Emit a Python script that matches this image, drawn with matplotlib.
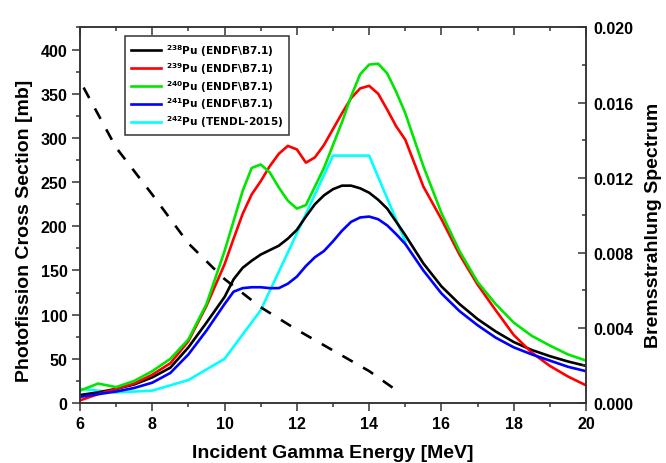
import matplotlib
matplotlib.use("Agg")
import matplotlib.pyplot as plt
from matplotlib.ticker import MultipleLocator, FormatStrFormatter

plt.rcParams['font.family'] = ['Liberation Sans', 'DejaVu Sans']
plt.rcParams['font.weight'] = 'bold'
plt.rcParams['mathtext.default'] = 'bf'

# photofission cross sections [mb]
energy = [6, 6.5, 7, 7.5, 8, 8.5, 9, 9.5, 10, 10.25, 10.5, 10.75, 11, 11.25,
          11.5, 11.75, 12, 12.25, 12.5, 12.75, 13, 13.25, 13.5, 13.75, 14,
          14.25, 14.5, 14.75, 15, 15.5, 16, 16.5, 17, 17.5, 18, 18.5, 19,
          19.5, 20]
pu238 = [9, 12, 16, 21, 29, 40, 63, 91, 120, 140, 153, 161, 168, 173, 178,
         186, 196, 211, 225, 235, 242, 246, 246, 243, 238, 230, 220, 205, 190,
         158, 132, 112, 95, 81, 69, 60, 53, 47, 42]
pu239 = [3, 10, 16, 22, 32, 45, 70, 110, 157, 186, 214, 236, 251, 268, 282,
         291, 287, 272, 278, 292, 310, 328, 345, 356, 359, 350, 332, 313, 298,
         245, 208, 168, 134, 105, 77, 57, 42, 30, 20]
pu240 = [14, 22, 18, 25, 36, 50, 72, 112, 172, 206, 240, 266, 270, 261, 244,
         229, 220, 224, 245, 266, 292, 318, 347, 372, 383, 384, 373, 352, 328,
         268, 215, 172, 137, 112, 91, 76, 65, 55, 48]
pu241 = [7, 10, 13, 17, 23, 34, 55, 82, 112, 126, 130, 131, 131, 130, 130,
         135, 143, 155, 165, 172, 183, 195, 205, 210, 211, 208, 201, 191, 180,
         150, 124, 104, 88, 74, 63, 55, 48, 41, 36]
energy_242 = [6, 7, 8, 9, 10, 11, 12, 13, 14, 15]
pu242 = [16, 12, 14, 26, 50, 105, 192, 280, 280, 183]

# bremsstrahlung spectrum (right axis)
energy_brems = [6.1, 7, 8, 9, 10, 11, 12, 13, 14, 14.7]
brems = [0.0168, 0.0136, 0.0111, 0.0085, 0.0066, 0.0051, 0.0039, 0.0028,
         0.0017, 0.00075]

series = [
    (pu238, 'black', r'$^{238}$Pu (ENDF\B7.1)'),
    (pu239, '#ff0000', r'$^{239}$Pu (ENDF\B7.1)'),
    (pu240, '#00e600', r'$^{240}$Pu (ENDF\B7.1)'),
    (pu241, '#0000ff', r'$^{241}$Pu (ENDF\B7.1)'),
]

fig = plt.figure(figsize=(6.66, 4.64), dpi=100)
ax = fig.add_axes([0.1201, 0.1293, 0.7598, 0.8093])

ax.plot(energy_242, pu242, color='#00ffff', lw=1.9, zorder=1,
        label=r'$^{242}$Pu (TENDL-2015)')
lines = []
for vals, col, lab in series:
    ln, = ax.plot(energy, vals, color=col, lw=1.9, zorder=2, label=lab)
    lines.append(ln)

ax.set_xlim(6, 20)
ax.set_ylim(0, 425)
ax.xaxis.set_major_locator(MultipleLocator(2))
ax.xaxis.set_minor_locator(MultipleLocator(1))
ax.yaxis.set_major_locator(MultipleLocator(50))
ax.yaxis.set_minor_locator(MultipleLocator(25))
ax.tick_params(which='both', direction='out', labelsize=11.5, width=1.1,
               color='#333333', top=False, right=False)
ax.tick_params(which='major', length=6, pad=3)
ax.tick_params(which='minor', length=3)
for s in ax.spines.values():
    s.set_linewidth(1.1)
    s.set_color('#333333')

top = ax.secondary_xaxis('top')
top.xaxis.set_major_locator(MultipleLocator(2))
top.xaxis.set_minor_locator(MultipleLocator(1))
top.tick_params(which='both', direction='in', labeltop=False, width=1.1,
                color='#333333')
top.tick_params(which='major', length=6)
top.tick_params(which='minor', length=3)
top.spines['top'].set_linewidth(0)

ax.set_xlabel('Incident Gamma Energy [MeV]', fontsize=14, fontweight='bold')
ax.xaxis.set_label_coords(0.5, -0.11)
ax.set_ylabel('Photofission Cross Section [mb]', fontsize=14, fontweight='bold')
ax.yaxis.set_label_coords(-0.093, 0.46)

ax2 = ax.twinx()
ax2.plot(energy_brems, brems, color='black', lw=1.9, ls=(0, (4.5, 4.5)))
ax2.set_ylim(0, 0.020)
ax2.yaxis.set_major_locator(MultipleLocator(0.004))
ax2.yaxis.set_minor_locator(MultipleLocator(0.002))
ax2.yaxis.set_major_formatter(FormatStrFormatter('%.3f'))
ax2.tick_params(which='both', direction='in', labelsize=11.5, width=1.1,
                color='#333333', pad=5)
ax2.tick_params(which='major', length=6)
ax2.tick_params(which='minor', length=3)
for s in ax2.spines.values():
    s.set_linewidth(1.1)
    s.set_color('#333333')
ax2.set_ylabel('Bremsstrahlung Spectrum', fontsize=14, fontweight='bold',
               rotation=90)
ax2.yaxis.set_label_coords(1.117, 0.477)

handles = lines + [ax.get_lines()[0]]
leg = ax.legend(handles=handles, loc='upper left',
                bbox_to_anchor=(0.089, 0.977), borderaxespad=0,
                prop={'family': 'DejaVu Sans', 'size': 7.6, 'weight': 'bold'},
                fancybox=False, edgecolor='#333333', handlelength=2.9,
                handletextpad=0.4, labelspacing=0.2, borderpad=0.55,
                framealpha=1)
leg.get_frame().set_linewidth(1.1)

fig.savefig('out.png', dpi=100)
